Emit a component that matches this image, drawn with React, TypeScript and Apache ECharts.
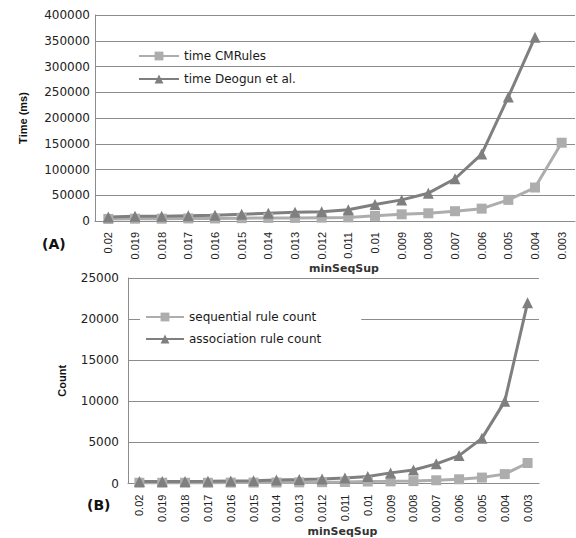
import React, { useEffect, useRef } from "react";
import * as echarts from "echarts";

const categories = ["0.02", "0.019", "0.018", "0.017", "0.016", "0.015", "0.014", "0.013", "0.012", "0.011", "0.01", "0.009", "0.008", "0.007", "0.006", "0.005", "0.004", "0.003"];

const timeCMRules = [4000, 4500, 4500, 5000, 5000, 5500, 6000, 6000, 6500, 7000, 10000, 13000, 15000, 19000, 24000, 41000, 65000, 152000];
const timeDeogun = [8000, 9000, 9000, 10000, 11000, 13000, 15000, 17000, 18000, 22000, 32000, 41000, 54000, 82000, 130000, 241000, 357000, null];

const sequentialCount = [100, 100, 100, 100, 120, 120, 130, 150, 170, 190, 250, 270, 300, 400, 520, 730, 1150, 2500];
const associationCount = [240, 250, 260, 270, 300, 330, 420, 490, 570, 690, 850, 1300, 1650, 2400, 3400, 5500, 10000, 22000];

const LIGHT = "#adadad";
const DARK = "#7f7f7f";
const GRID = "#8c8c8c";
const TXT = "#222222";

export default function App() {
  const ref = useRef<HTMLDivElement>(null);
  useEffect(() => {
    const chart = echarts.init(ref.current!, null, { renderer: "svg" });
    const xAxisBase = (gridIndex: number) => ({
      type: "category",
      gridIndex,
      data: categories,
      boundaryGap: true,
      axisLine: { show: true, lineStyle: { color: GRID, width: 1 } },
      axisTick: { show: false },
      axisLabel: {
        rotate: 90,
        margin: 11,
        fontSize: 11,
        fontFamily: "Liberation Sans",
        color: TXT,
        interval: 0,
      },
      name: "minSeqSup",
      nameLocation: "middle",
      nameGap: 42,
      nameTextStyle: {
        fontFamily: "DejaVu Sans",
        fontWeight: "bold",
        fontSize: 11,
        color: "#333",
        padding: [0, 0, 0, 18],
      },
    });
    const yAxisBase = (gridIndex: number, max: number, interval: number, name: string, nameGap: number, margin: number) => ({
      type: "value",
      gridIndex,
      min: 0,
      max,
      interval,
      axisLine: { show: true, lineStyle: { color: GRID, width: 1 } },
      axisTick: { show: false },
      splitLine: { show: true, lineStyle: { color: GRID, width: 1 } },
      axisLabel: {
        margin,
        fontSize: 12,
        fontFamily: "DejaVu Sans",
        color: TXT,
        formatter: (v: number) => String(v),
      },
      name,
      nameLocation: "middle",
      nameGap,
      nameRotate: 90,
      nameTextStyle: {
        fontFamily: "Liberation Sans",
        fontWeight: "bold",
        fontSize: 11,
        color: "#111",
      },
    });
    const lineSeries = (name: string, data: (number | null)[], idx: number, color: string, symbol: string, size: number) => ({
      type: "line",
      name,
      data,
      xAxisIndex: idx,
      yAxisIndex: idx,
      color,
      symbol,
      symbolSize: size,
      showSymbol: true,
      lineStyle: { color, width: 3 },
      itemStyle: { color },
    });
    chart.setOption({
      animation: false,
      backgroundColor: "#ffffff",
      grid: [
        { left: 95, top: 15, width: 480, height: 206 },
        { left: 128, top: 278, width: 411, height: 206 },
      ],
      xAxis: [xAxisBase(0), xAxisBase(1)],
      yAxis: [
        yAxisBase(0, 400000, 50000, "Time (ms)", 67, 5),
        yAxisBase(1, 25000, 5000, "Count", 61, 9),
      ],
      legend: [
        {
          data: ["time CMRules", "time Deogun et al."],
          orient: "vertical",
          left: 138,
          top: 50,
          itemWidth: 40,
          itemHeight: 11,
          itemGap: 11,
          textStyle: { fontFamily: "DejaVu Sans", fontSize: 12, color: "#1a1a1a" },
          padding: 0,
        },
        {
          data: ["sequential rule count", "association rule count"],
          orient: "vertical",
          left: 140,
          top: 305,
          itemWidth: 38,
          itemHeight: 11,
          itemGap: 10,
          backgroundColor: "#ffffff",
          padding: [6, 40, 6, 5],
          textStyle: { fontFamily: "DejaVu Sans", fontSize: 12, color: "#1a1a1a" },
        },
      ],
      series: [
        lineSeries("time CMRules", timeCMRules, 0, LIGHT, "rect", 10),
        lineSeries("time Deogun et al.", timeDeogun, 0, DARK, "triangle", 11),
        lineSeries("sequential rule count", sequentialCount, 1, LIGHT, "rect", 10),
        lineSeries("association rule count", associationCount, 1, DARK, "triangle", 11),
      ],
      graphic: [
        {
          type: "text",
          left: 42,
          top: 237,
          style: { text: "(A)", fontFamily: "DejaVu Sans", fontWeight: "bold", fontSize: 14, fill: "#111" },
        },
        {
          type: "text",
          left: 87,
          top: 498,
          style: { text: "(B)", fontFamily: "DejaVu Sans", fontWeight: "bold", fontSize: 14, fill: "#111" },
        },
      ],
    });
    return () => chart.dispose();
  }, []);
  return (
    <div
      ref={ref}
      style={{ position: "absolute", left: 0, top: 0, width: 576, height: 538, background: "#fff" }}
    />
  );
}
